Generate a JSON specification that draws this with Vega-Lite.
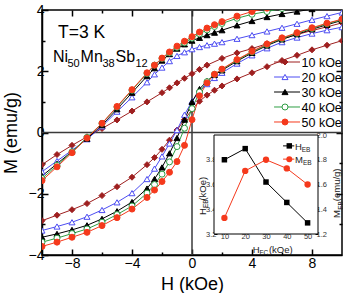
{
  "$schema": "https://vega.github.io/schema/vega-lite/v6.json",
  "width": 300,
  "height": 245,
  "autosize": "none",
  "padding": {"left": 42, "top": 10, "right": 1, "bottom": 38},
  "background": "white",
  "config": {
    "font": "Liberation Sans",
    "view": {"stroke": "black", "strokeWidth": 1.5},
    "axis": {"grid": false, "domainColor": "black", "tickColor": "black", "labelColor": "black", "titleColor": "black", "titleFontWeight": "normal", "labelFont": "Liberation Sans", "titleFont": "Liberation Sans"}
  },
  "datasets": {
    "loops": [
      {"s":"10 kOe","b":"down","H":-10,"M":-1.05},{"s":"10 kOe","b":"down","H":-9,"M":-0.72},{"s":"10 kOe","b":"down","H":-8,"M":-0.42},{"s":"10 kOe","b":"down","H":-7,"M":-0.14},{"s":"10 kOe","b":"down","H":-6,"M":0.13},{"s":"10 kOe","b":"down","H":-5,"M":0.41},{"s":"10 kOe","b":"down","H":-4,"M":0.7},{"s":"10 kOe","b":"down","H":-3,"M":1.0},{"s":"10 kOe","b":"down","H":-2,"M":1.3},{"s":"10 kOe","b":"down","H":-1.5,"M":1.46},{"s":"10 kOe","b":"down","H":-1,"M":1.62},{"s":"10 kOe","b":"down","H":-0.5,"M":1.77},{"s":"10 kOe","b":"down","H":0,"M":1.92},{"s":"10 kOe","b":"down","H":0.5,"M":2.06},{"s":"10 kOe","b":"down","H":1,"M":2.2},{"s":"10 kOe","b":"down","H":2,"M":2.42},{"s":"10 kOe","b":"down","H":3,"M":2.6},{"s":"10 kOe","b":"down","H":4,"M":2.74},{"s":"10 kOe","b":"down","H":5,"M":2.9},{"s":"10 kOe","b":"down","H":6,"M":3.05},{"s":"10 kOe","b":"down","H":7,"M":3.2},{"s":"10 kOe","b":"down","H":8,"M":3.33},{"s":"10 kOe","b":"down","H":9,"M":3.45},{"s":"10 kOe","b":"down","H":10,"M":3.58},
      {"s":"10 kOe","b":"up","H":-10,"M":-2.88},{"s":"10 kOe","b":"up","H":-9,"M":-2.7},{"s":"10 kOe","b":"up","H":-8,"M":-2.52},{"s":"10 kOe","b":"up","H":-7,"M":-2.32},{"s":"10 kOe","b":"up","H":-6,"M":-2.06},{"s":"10 kOe","b":"up","H":-5,"M":-1.77},{"s":"10 kOe","b":"up","H":-4,"M":-1.46},{"s":"10 kOe","b":"up","H":-3,"M":-1.05},{"s":"10 kOe","b":"up","H":-2.5,"M":-0.82},{"s":"10 kOe","b":"up","H":-2,"M":-0.55},{"s":"10 kOe","b":"up","H":-1.5,"M":-0.25},{"s":"10 kOe","b":"up","H":-1,"M":0.08},{"s":"10 kOe","b":"up","H":-0.5,"M":0.42},{"s":"10 kOe","b":"up","H":0,"M":0.75},{"s":"10 kOe","b":"up","H":0.5,"M":1.02},{"s":"10 kOe","b":"up","H":1,"M":1.22},{"s":"10 kOe","b":"up","H":1.5,"M":1.38},{"s":"10 kOe","b":"up","H":2,"M":1.52},{"s":"10 kOe","b":"up","H":3,"M":1.75},{"s":"10 kOe","b":"up","H":4,"M":1.95},{"s":"10 kOe","b":"up","H":5,"M":2.15},{"s":"10 kOe","b":"up","H":6,"M":2.35},{"s":"10 kOe","b":"up","H":7,"M":2.52},{"s":"10 kOe","b":"up","H":8,"M":2.7},{"s":"10 kOe","b":"up","H":9,"M":2.85},{"s":"10 kOe","b":"up","H":10,"M":3.0},
      {"s":"20 kOe","b":"down","H":-10,"M":-1.28},{"s":"20 kOe","b":"down","H":-9,"M":-0.93},{"s":"20 kOe","b":"down","H":-8,"M":-0.58},{"s":"20 kOe","b":"down","H":-7,"M":-0.22},{"s":"20 kOe","b":"down","H":-6,"M":0.2},{"s":"20 kOe","b":"down","H":-5,"M":0.68},{"s":"20 kOe","b":"down","H":-4,"M":1.15},{"s":"20 kOe","b":"down","H":-3,"M":1.64},{"s":"20 kOe","b":"down","H":-2.5,"M":1.9},{"s":"20 kOe","b":"down","H":-2,"M":2.12},{"s":"20 kOe","b":"down","H":-1.5,"M":2.33},{"s":"20 kOe","b":"down","H":-1,"M":2.5},{"s":"20 kOe","b":"down","H":-0.5,"M":2.62},{"s":"20 kOe","b":"down","H":0,"M":2.72},{"s":"20 kOe","b":"down","H":0.5,"M":2.79},{"s":"20 kOe","b":"down","H":1,"M":2.85},{"s":"20 kOe","b":"down","H":1.5,"M":2.9},{"s":"20 kOe","b":"down","H":2,"M":2.95},{"s":"20 kOe","b":"down","H":3,"M":3.06},{"s":"20 kOe","b":"down","H":4,"M":3.18},{"s":"20 kOe","b":"down","H":5,"M":3.3},{"s":"20 kOe","b":"down","H":6,"M":3.42},{"s":"20 kOe","b":"down","H":7,"M":3.55},{"s":"20 kOe","b":"down","H":8,"M":3.68},{"s":"20 kOe","b":"down","H":9,"M":3.8},{"s":"20 kOe","b":"down","H":10,"M":3.92},
      {"s":"20 kOe","b":"up","H":-10,"M":-3.2},{"s":"20 kOe","b":"up","H":-9,"M":-3.07},{"s":"20 kOe","b":"up","H":-8,"M":-2.93},{"s":"20 kOe","b":"up","H":-7,"M":-2.75},{"s":"20 kOe","b":"up","H":-6,"M":-2.53},{"s":"20 kOe","b":"up","H":-5,"M":-2.28},{"s":"20 kOe","b":"up","H":-4,"M":-1.98},{"s":"20 kOe","b":"up","H":-3,"M":-1.52},{"s":"20 kOe","b":"up","H":-2.5,"M":-1.18},{"s":"20 kOe","b":"up","H":-2,"M":-0.78},{"s":"20 kOe","b":"up","H":-1.5,"M":-0.36},{"s":"20 kOe","b":"up","H":-1,"M":0.08},{"s":"20 kOe","b":"up","H":-0.5,"M":0.58},{"s":"20 kOe","b":"up","H":0,"M":1.02},{"s":"20 kOe","b":"up","H":0.5,"M":1.34},{"s":"20 kOe","b":"up","H":1,"M":1.58},{"s":"20 kOe","b":"up","H":1.5,"M":1.78},{"s":"20 kOe","b":"up","H":2,"M":1.95},{"s":"20 kOe","b":"up","H":3,"M":2.25},{"s":"20 kOe","b":"up","H":4,"M":2.52},{"s":"20 kOe","b":"up","H":5,"M":2.75},{"s":"20 kOe","b":"up","H":6,"M":2.95},{"s":"20 kOe","b":"up","H":7,"M":3.1},{"s":"20 kOe","b":"up","H":8,"M":3.23},{"s":"20 kOe","b":"up","H":9,"M":3.34},{"s":"20 kOe","b":"up","H":10,"M":3.44},
      {"s":"30 kOe","b":"down","H":-10,"M":-1.42},{"s":"30 kOe","b":"down","H":-9,"M":-1.02},{"s":"30 kOe","b":"down","H":-8,"M":-0.62},{"s":"30 kOe","b":"down","H":-7,"M":-0.2},{"s":"30 kOe","b":"down","H":-6,"M":0.24},{"s":"30 kOe","b":"down","H":-5,"M":0.76},{"s":"30 kOe","b":"down","H":-4,"M":1.3},{"s":"30 kOe","b":"down","H":-3,"M":1.84},{"s":"30 kOe","b":"down","H":-2.5,"M":2.1},{"s":"30 kOe","b":"down","H":-2,"M":2.35},{"s":"30 kOe","b":"down","H":-1.5,"M":2.56},{"s":"30 kOe","b":"down","H":-1,"M":2.74},{"s":"30 kOe","b":"down","H":-0.5,"M":2.88},{"s":"30 kOe","b":"down","H":0,"M":3.0},{"s":"30 kOe","b":"down","H":0.5,"M":3.09},{"s":"30 kOe","b":"down","H":1,"M":3.18},{"s":"30 kOe","b":"down","H":1.5,"M":3.26},{"s":"30 kOe","b":"down","H":2,"M":3.34},{"s":"30 kOe","b":"down","H":3,"M":3.5},{"s":"30 kOe","b":"down","H":4,"M":3.64},{"s":"30 kOe","b":"down","H":5,"M":3.77},{"s":"30 kOe","b":"down","H":6,"M":3.87},{"s":"30 kOe","b":"down","H":7,"M":3.95},{"s":"30 kOe","b":"down","H":8,"M":4.03},{"s":"30 kOe","b":"down","H":9,"M":4.1},{"s":"30 kOe","b":"down","H":10,"M":4.16},
      {"s":"30 kOe","b":"up","H":-10,"M":-3.42},{"s":"30 kOe","b":"up","H":-9,"M":-3.31},{"s":"30 kOe","b":"up","H":-8,"M":-3.18},{"s":"30 kOe","b":"up","H":-7,"M":-3.03},{"s":"30 kOe","b":"up","H":-6,"M":-2.82},{"s":"30 kOe","b":"up","H":-5,"M":-2.57},{"s":"30 kOe","b":"up","H":-4,"M":-2.27},{"s":"30 kOe","b":"up","H":-3,"M":-1.83},{"s":"30 kOe","b":"up","H":-2.5,"M":-1.52},{"s":"30 kOe","b":"up","H":-2,"M":-1.14},{"s":"30 kOe","b":"up","H":-1.5,"M":-0.68},{"s":"30 kOe","b":"up","H":-1,"M":-0.18},{"s":"30 kOe","b":"up","H":-0.5,"M":0.42},{"s":"30 kOe","b":"up","H":0,"M":1.0},{"s":"30 kOe","b":"up","H":0.5,"M":1.42},{"s":"30 kOe","b":"up","H":1,"M":1.68},{"s":"30 kOe","b":"up","H":1.5,"M":1.88},{"s":"30 kOe","b":"up","H":2,"M":2.03},{"s":"30 kOe","b":"up","H":3,"M":2.33},{"s":"30 kOe","b":"up","H":4,"M":2.6},{"s":"30 kOe","b":"up","H":5,"M":2.84},{"s":"30 kOe","b":"up","H":6,"M":3.04},{"s":"30 kOe","b":"up","H":7,"M":3.21},{"s":"30 kOe","b":"up","H":8,"M":3.37},{"s":"30 kOe","b":"up","H":9,"M":3.52},{"s":"30 kOe","b":"up","H":10,"M":3.66},
      {"s":"40 kOe","b":"down","H":-10,"M":-1.5},{"s":"40 kOe","b":"down","H":-9,"M":-1.07},{"s":"40 kOe","b":"down","H":-8,"M":-0.63},{"s":"40 kOe","b":"down","H":-7,"M":-0.16},{"s":"40 kOe","b":"down","H":-6,"M":0.3},{"s":"40 kOe","b":"down","H":-5,"M":0.83},{"s":"40 kOe","b":"down","H":-4,"M":1.38},{"s":"40 kOe","b":"down","H":-3,"M":1.93},{"s":"40 kOe","b":"down","H":-2.5,"M":2.2},{"s":"40 kOe","b":"down","H":-2,"M":2.42},{"s":"40 kOe","b":"down","H":-1.5,"M":2.6},{"s":"40 kOe","b":"down","H":-1,"M":2.78},{"s":"40 kOe","b":"down","H":-0.5,"M":2.93},{"s":"40 kOe","b":"down","H":0,"M":3.08},{"s":"40 kOe","b":"down","H":0.5,"M":3.22},{"s":"40 kOe","b":"down","H":1,"M":3.35},{"s":"40 kOe","b":"down","H":1.5,"M":3.46},{"s":"40 kOe","b":"down","H":2,"M":3.56},{"s":"40 kOe","b":"down","H":3,"M":3.73},{"s":"40 kOe","b":"down","H":4,"M":3.86},{"s":"40 kOe","b":"down","H":5,"M":3.95},{"s":"40 kOe","b":"down","H":6,"M":4.05},{"s":"40 kOe","b":"down","H":7,"M":4.12},
      {"s":"40 kOe","b":"up","H":-10,"M":-3.58},{"s":"40 kOe","b":"up","H":-9,"M":-3.45},{"s":"40 kOe","b":"up","H":-8,"M":-3.3},{"s":"40 kOe","b":"up","H":-7,"M":-3.15},{"s":"40 kOe","b":"up","H":-6,"M":-2.93},{"s":"40 kOe","b":"up","H":-5,"M":-2.68},{"s":"40 kOe","b":"up","H":-4,"M":-2.4},{"s":"40 kOe","b":"up","H":-3,"M":-1.98},{"s":"40 kOe","b":"up","H":-2.5,"M":-1.7},{"s":"40 kOe","b":"up","H":-2,"M":-1.36},{"s":"40 kOe","b":"up","H":-1.5,"M":-0.96},{"s":"40 kOe","b":"up","H":-1,"M":-0.46},{"s":"40 kOe","b":"up","H":-0.5,"M":0.14},{"s":"40 kOe","b":"up","H":0,"M":0.78},{"s":"40 kOe","b":"up","H":0.5,"M":1.32},{"s":"40 kOe","b":"up","H":1,"M":1.66},{"s":"40 kOe","b":"up","H":1.5,"M":1.9},{"s":"40 kOe","b":"up","H":2,"M":2.06},{"s":"40 kOe","b":"up","H":3,"M":2.36},{"s":"40 kOe","b":"up","H":4,"M":2.63},{"s":"40 kOe","b":"up","H":5,"M":2.87},{"s":"40 kOe","b":"up","H":6,"M":3.07},{"s":"40 kOe","b":"up","H":7,"M":3.24},{"s":"40 kOe","b":"up","H":8,"M":3.4},{"s":"40 kOe","b":"up","H":9,"M":3.55},{"s":"40 kOe","b":"up","H":10,"M":3.68},
      {"s":"50 kOe","b":"down","H":-10,"M":-1.57},{"s":"50 kOe","b":"down","H":-9,"M":-1.12},{"s":"50 kOe","b":"down","H":-8,"M":-0.66},{"s":"50 kOe","b":"down","H":-7,"M":-0.18},{"s":"50 kOe","b":"down","H":-6,"M":0.3},{"s":"50 kOe","b":"down","H":-5,"M":0.85},{"s":"50 kOe","b":"down","H":-4,"M":1.4},{"s":"50 kOe","b":"down","H":-3,"M":1.95},{"s":"50 kOe","b":"down","H":-2.5,"M":2.2},{"s":"50 kOe","b":"down","H":-2,"M":2.43},{"s":"50 kOe","b":"down","H":-1.5,"M":2.63},{"s":"50 kOe","b":"down","H":-1,"M":2.82},{"s":"50 kOe","b":"down","H":-0.5,"M":2.98},{"s":"50 kOe","b":"down","H":0,"M":3.13},{"s":"50 kOe","b":"down","H":0.5,"M":3.28},{"s":"50 kOe","b":"down","H":1,"M":3.41},{"s":"50 kOe","b":"down","H":1.5,"M":3.52},{"s":"50 kOe","b":"down","H":2,"M":3.62},{"s":"50 kOe","b":"down","H":3,"M":3.8},{"s":"50 kOe","b":"down","H":4,"M":3.95},{"s":"50 kOe","b":"down","H":5,"M":4.06},{"s":"50 kOe","b":"down","H":6,"M":4.15},
      {"s":"50 kOe","b":"up","H":-10,"M":-3.72},{"s":"50 kOe","b":"up","H":-9,"M":-3.58},{"s":"50 kOe","b":"up","H":-8,"M":-3.42},{"s":"50 kOe","b":"up","H":-7,"M":-3.26},{"s":"50 kOe","b":"up","H":-6,"M":-3.04},{"s":"50 kOe","b":"up","H":-5,"M":-2.78},{"s":"50 kOe","b":"up","H":-4,"M":-2.5},{"s":"50 kOe","b":"up","H":-3,"M":-2.12},{"s":"50 kOe","b":"up","H":-2.5,"M":-1.88},{"s":"50 kOe","b":"up","H":-2,"M":-1.6},{"s":"50 kOe","b":"up","H":-1.5,"M":-1.3},{"s":"50 kOe","b":"up","H":-1,"M":-0.95},{"s":"50 kOe","b":"up","H":-0.5,"M":-0.42},{"s":"50 kOe","b":"up","H":0,"M":0.42},{"s":"50 kOe","b":"up","H":0.5,"M":1.2},{"s":"50 kOe","b":"up","H":1,"M":1.62},{"s":"50 kOe","b":"up","H":1.5,"M":1.9},{"s":"50 kOe","b":"up","H":2,"M":2.07},{"s":"50 kOe","b":"up","H":3,"M":2.38},{"s":"50 kOe","b":"up","H":4,"M":2.65},{"s":"50 kOe","b":"up","H":5,"M":2.89},{"s":"50 kOe","b":"up","H":6,"M":3.09},{"s":"50 kOe","b":"up","H":7,"M":3.26},{"s":"50 kOe","b":"up","H":8,"M":3.42},{"s":"50 kOe","b":"up","H":9,"M":3.57},{"s":"50 kOe","b":"up","H":10,"M":3.7}
    ],
    "bias": [
      {"Hfc":10,"Heb":3.8,"Meb":1.33},{"Hfc":20,"Heb":3.89,"Meb":1.71},{"Hfc":30,"Heb":3.62,"Meb":1.8},{"Hfc":40,"Heb":3.455,"Meb":1.73},{"Hfc":50,"Heb":3.29,"Meb":1.6}
    ]
  },
  "layer": [
    {
      "data": {"values": [{}]},
      "layer": [
        {
          "mark": {"type": "rule", "color": "#3a3a3a", "strokeWidth": 1.5},
          "encoding": {
            "x": {"datum": 0, "type": "quantitative", "scale": {"domain": [-10, 10], "nice": false},
              "axis": {"orient": "top", "title": null, "values": [-8, -6, -4, -2, 0, 2, 4, 6, 8], "labels": false, "domain": false, "tickWidth": 1.5,
                "tickSize": {"condition": {"test": "datum.value % 4 == 0", "value": -6}, "value": -3}}}
          }
        },
        {
          "mark": {"type": "rule", "color": "#3a3a3a", "strokeWidth": 1.5},
          "encoding": {
            "y": {"datum": 0, "type": "quantitative", "scale": {"domain": [-4, 4], "nice": false},
              "axis": {"orient": "right", "title": null, "values": [-3, -2, -1, 0, 1, 2, 3], "labels": false, "domain": false, "tickWidth": 1.5,
                "tickSize": {"condition": {"test": "datum.value % 2 == 0", "value": -6}, "value": -3}}}
          }
        }
      ]
    },
    {
      "encoding": {
        "x": {"type": "quantitative", "scale": {"domain": [-10, 10], "nice": false},
          "axis": {"orient": "bottom", "title": "H (kOe)", "titleFontSize": 18, "titlePadding": 5, "labelFontSize": 14, "labelPadding": 7,
            "values": [-8, -6, -4, -2, 0, 2, 4, 6, 8], "labelExpr": "datum.value % 4 == 0 ? datum.label : ''", "domainWidth": 1.5, "tickWidth": 1.5,
            "tickSize": {"condition": {"test": "datum.value % 4 == 0", "value": -6}, "value": -3}}},
        "y": {"type": "quantitative", "scale": {"domain": [-4, 4], "nice": false},
          "axis": {"orient": "left", "title": "M (emu/g)", "titleFontSize": 18, "titlePadding": 8, "labelFontSize": 14, "labelPadding": 4,
            "values": [-4, -3, -2, -1, 0, 1, 2, 3, 4], "labelExpr": "datum.value % 2 == 0 ? datum.label : ''", "domainWidth": 1.5, "tickWidth": 1.5,
            "tickSize": {"condition": {"test": "datum.value % 2 == 0", "value": -6}, "value": -3}}}
      },
      "layer": [
        {
          "data": {"name": "loops"},
          "mark": {"type": "line", "strokeWidth": 1, "clip": true},
          "encoding": {
            "x": {"field": "H"}, "y": {"field": "M"}, "detail": {"field": "b"},
            "color": {"field": "s", "type": "nominal", "legend": null,
              "scale": {"domain": ["10 kOe", "20 kOe", "30 kOe", "40 kOe", "50 kOe"], "range": ["#9e1f1f", "#4d4df2", "#000000", "#2f9e44", "#f5391c"]}}
          }
        },
        {
          "data": {"name": "loops"},
          "mark": {"type": "point", "filled": true, "size": 36, "strokeWidth": 1, "opacity": 1, "clip": true},
          "encoding": {
            "x": {"field": "H"}, "y": {"field": "M"},
            "shape": {"field": "s", "type": "nominal", "legend": null, "scale": {"domain": ["10 kOe", "20 kOe", "30 kOe", "40 kOe", "50 kOe"], "range": ["diamond", "triangle-up", "triangle-up", "circle", "circle"]}},
            "fill": {"field": "s", "type": "nominal", "legend": null, "scale": {"domain": ["10 kOe", "20 kOe", "30 kOe", "40 kOe", "50 kOe"], "range": ["#9e1f1f", "#ffffff", "#000000", "#ffffff", "#f5391c"]}},
            "stroke": {"field": "s", "type": "nominal", "legend": null, "scale": {"domain": ["10 kOe", "20 kOe", "30 kOe", "40 kOe", "50 kOe"], "range": ["#9e1f1f", "#4d4df2", "#000000", "#2f9e44", "#f5391c"]}}
          }
        },
        {
          "data": {"values": [{"s":"10 kOe","M":2.302},{"s":"20 kOe","M":1.812},{"s":"30 kOe","M":1.322},{"s":"40 kOe","M":0.833},{"s":"50 kOe","M":0.343}]},
          "layer": [
            {
              "mark": {"type": "rule", "strokeWidth": 1},
              "encoding": {"x": {"datum": 5.47}, "x2": {"datum": 7.2}, "y": {"field": "M"}, "color": {"field": "s", "type": "nominal", "legend": null}}
            },
            {
              "mark": {"type": "point", "filled": true, "size": 36, "strokeWidth": 1, "opacity": 1},
              "encoding": {
                "x": {"datum": 6.2}, "y": {"field": "M"},
                "shape": {"field": "s", "type": "nominal", "legend": null},
                "fill": {"field": "s", "type": "nominal", "legend": null},
                "stroke": {"field": "s", "type": "nominal", "legend": null}
              }
            },
            {
              "mark": {"type": "text", "align": "left", "baseline": "middle", "fontSize": 12.5, "dy": 1, "color": "black"},
              "encoding": {"x": {"datum": 7.3}, "y": {"field": "M"}, "text": {"field": "s"}}
            }
          ]
        },
        {
          "data": {"values": [
            {"t": "T=3 K", "H": -8.93, "M": 3.086}
          ]},
          "mark": {"type": "text", "align": "left", "baseline": "alphabetic", "fontSize": 17.5, "color": "black"},
          "encoding": {"x": {"field": "H"}, "y": {"field": "M"}, "text": {"field": "t"}}
        },
        {
          "data": {"values": [
            {"t": "Ni", "H": -9.27, "M": 2.302}, {"t": "Mn", "H": -7.43, "M": 2.302}, {"t": "Sb", "H": -5.1, "M": 2.302}
          ]},
          "mark": {"type": "text", "align": "left", "baseline": "alphabetic", "fontSize": 16, "color": "black"},
          "encoding": {"x": {"field": "H"}, "y": {"field": "M"}, "text": {"field": "t"}}
        },
        {
          "data": {"values": [
            {"t": "50", "H": -8.3, "M": 2.139}, {"t": "38", "H": -5.97, "M": 2.139}, {"t": "12", "H": -3.77, "M": 2.139}
          ]},
          "mark": {"type": "text", "align": "left", "baseline": "alphabetic", "fontSize": 11, "color": "black"},
          "encoding": {"x": {"field": "H"}, "y": {"field": "M"}, "text": {"field": "t"}}
        }
      ]
    },
    {
      "layer": [
        {
          "encoding": {
            "x": {"type": "quantitative", "scale": {"domain": [5, 55], "range": [172, 276], "nice": false},
              "axis": {"orient": "bottom", "offset": -21, "title": null, "values": [10, 20, 30, 40, 50], "labelFontSize": 7.5, "labelColor": "#333333", "labelPadding": 1, "tickSize": -3, "domain": false}},
            "y": {"type": "quantitative", "scale": {"domain": [3.2, 4.0], "range": [224, 125], "nice": false},
              "axis": {"orient": "left", "offset": -172, "title": null, "values": [3.2, 3.4, 3.6, 3.8], "format": ".1f", "labelFontSize": 7.5, "labelColor": "#333333", "labelPadding": 1, "tickSize": -3, "domain": false}}
          },
          "layer": [
            {
              "data": {"values": [{}]},
              "mark": {"type": "rect", "fill": "white", "stroke": "black", "strokeWidth": 1},
              "encoding": {"x": {"datum": 5}, "x2": {"datum": 55}, "y": {"datum": 3.2}, "y2": {"datum": 4.0}}
            },
            {
              "data": {"name": "bias"},
              "mark": {"type": "line", "color": "black", "strokeWidth": 1},
              "encoding": {"x": {"field": "Hfc"}, "y": {"field": "Heb"}}
            },
            {
              "data": {"name": "bias"},
              "mark": {"type": "point", "shape": "square", "filled": true, "color": "black", "size": 30, "opacity": 1},
              "encoding": {"x": {"field": "Hfc"}, "y": {"field": "Heb"}}
            },
            {
              "data": {"values": [{"k": "H", "y": 3.912, "c": "#000000"}, {"k": "M", "y": 3.805, "c": "#f5391c"}]},
              "mark": {"type": "rule", "strokeWidth": 1},
              "encoding": {"x": {"datum": 38.2}, "x2": {"datum": 43.6}, "y": {"field": "y"}, "color": {"field": "c", "type": "nominal", "scale": null}}
            },
            {
              "data": {"values": [{"k": "H", "y": 3.912}]},
              "mark": {"type": "point", "shape": "square", "filled": true, "color": "black", "size": 30, "opacity": 1},
              "encoding": {"x": {"datum": 41.2}, "y": {"field": "y"}}
            },
            {
              "data": {"values": [{"k": "M", "y": 3.805}]},
              "mark": {"type": "point", "shape": "circle", "filled": true, "color": "#f5391c", "size": 36, "opacity": 1},
              "encoding": {"x": {"datum": 41.2}, "y": {"field": "y"}}
            },
            {
              "data": {"values": [
                {"t": "H", "x": 43.9, "y": 3.88}, {"t": "M", "x": 43.9, "y": 3.773},
                {"t": "H", "x": 23.6, "y": 3.05}, {"t": "(kOe)", "x": 31.4, "y": 3.05}
              ]},
              "mark": {"type": "text", "align": "left", "baseline": "alphabetic", "fontSize": 9.5, "color": "#222222"},
              "encoding": {"x": {"field": "x"}, "y": {"field": "y"}, "text": {"field": "t"}}
            },
            {
              "data": {"values": [
                {"t": "EB", "x": 47.2, "y": 3.862}, {"t": "EB", "x": 47.8, "y": 3.755}, {"t": "FC", "x": 26.9, "y": 3.03}
              ]},
              "mark": {"type": "text", "align": "left", "baseline": "alphabetic", "fontSize": 6.5, "color": "#222222"},
              "encoding": {"x": {"field": "x"}, "y": {"field": "y"}, "text": {"field": "t"}}
            },
            {
              "data": {"values": [
                {"t": "H", "x": 1.15, "y": 3.354}, {"t": "(kOe)", "x": 1.15, "y": 3.47},
                {"t": "M", "x": 65.6, "y": 3.33}, {"t": "(emu/g)", "x": 65.6, "y": 3.465}
              ]},
              "mark": {"type": "text", "align": "left", "baseline": "alphabetic", "fontSize": 9.5, "angle": 270, "color": "#222222"},
              "encoding": {"x": {"field": "x"}, "y": {"field": "y"}, "text": {"field": "t"}}
            },
            {
              "data": {"values": [
                {"t": "EB", "x": 2.3, "y": 3.41}, {"t": "EB", "x": 66.8, "y": 3.395}
              ]},
              "mark": {"type": "text", "align": "left", "baseline": "alphabetic", "fontSize": 6.5, "angle": 270, "color": "#222222"},
              "encoding": {"x": {"field": "x"}, "y": {"field": "y"}, "text": {"field": "t"}}
            }
          ]
        },
        {
          "data": {"name": "bias"},
          "encoding": {
            "x": {"field": "Hfc", "type": "quantitative"},
            "y": {"field": "Meb", "type": "quantitative", "scale": {"domain": [1.2, 2.0], "range": [224, 125], "nice": false},
              "axis": {"orient": "right", "offset": -24, "title": null, "values": [1.2, 1.4, 1.6, 1.8, 2.0], "format": ".1f", "labelFontSize": 7.5, "labelColor": "#333333", "labelPadding": 1, "tickSize": -3, "domain": false}}
          },
          "layer": [
            {"mark": {"type": "line", "color": "#f5391c", "strokeWidth": 1}},
            {"mark": {"type": "point", "shape": "circle", "filled": true, "color": "#f5391c", "size": 40, "opacity": 1}}
          ]
        }
      ],
      "resolve": {"scale": {"y": "independent"}}
    }
  ],
  "resolve": {"scale": {"x": "independent", "y": "independent"}}
}
